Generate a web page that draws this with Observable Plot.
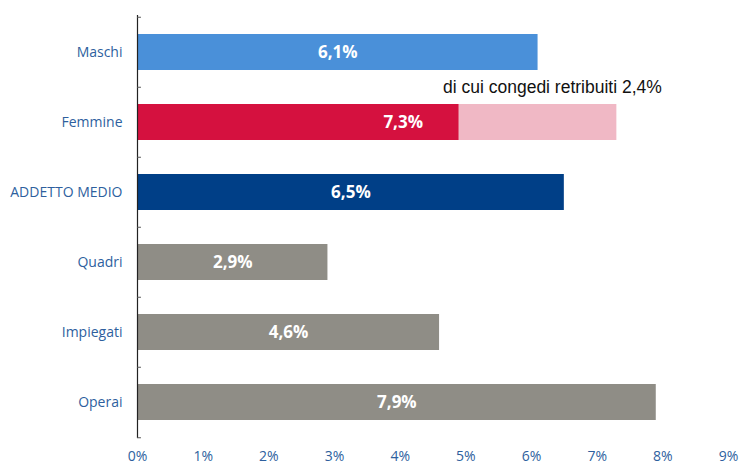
<!DOCTYPE html>
<html>
<head>
<meta charset="utf-8">
<script src="https://cdn.jsdelivr.net/npm/d3@7"></script>
<script src="https://cdn.jsdelivr.net/npm/@observablehq/plot@0.6"></script>
<style>
  body { margin: 0; background: #fff; }
  #chart svg { display: block; }
</style>
</head>
<body>
<div id="chart"></div>
<script>
const categories = ["Maschi", "Femmine", "ADDETTO MEDIO", "Quadri", "Impiegati", "Operai"];
const totals = [6.1, 7.3, 6.5, 2.9, 4.6, 7.9];
const congedi = [0, 2.4, 0, 0, 0, 0];
const labels = ["6,1%", "7,3%", "6,5%", "2,9%", "4,6%", "7,9%"];
const barColors = ["#4a90d9", "#d5113f", "#003f87", "#8f8d86", "#8f8d86", "#8f8d86"];
const congediColor = "#f0b8c5";
const note = "di cui congedi retribuiti 2,4%";
const xTicks = [0, 1, 2, 3, 4, 5, 6, 7, 8, 9];

const rows = categories.map((c, i) => ({
  cat: c, total: totals[i], cong: congedi[i], base: totals[i] - congedi[i],
  label: labels[i], color: barColors[i]
}));
const femm = rows.filter(d => d.cong > 0);
const half = (466 - 15 - 28) / categories.length / 2;

const chart = Plot.plot({
  width: 741,
  height: 466,
  marginLeft: 137,
  marginRight: 13,
  marginTop: 15,
  marginBottom: 28,
  style: { fontFamily: "'Open Sans', sans-serif", fontSize: "14px", color: "#2e5f9e" },
  x: { domain: [0, 9], ticks: xTicks, tickFormat: d => d + "%", tickSize: 0, tickPadding: 13, label: null },
  y: { domain: categories, paddingInner: 0.49, paddingOuter: 0.245, label: null, axis: null },
  marks: [
    Plot.barX(rows, { y: "cat", x1: 0, x2: "base", fill: "color" }),
    Plot.barX(femm, { y: "cat", x1: "base", x2: "total", fill: congediColor }),
    Plot.text(rows.filter(d => d.cong === 0), { y: "cat", x: d => d.total / 2, text: "label", fill: "white", fontWeight: "bold", fontSize: 17 }),
    Plot.text(femm, { y: "cat", x: d => d.total / 2, dx: 26, text: "label", fill: "white", fontWeight: "bold", fontSize: 17 }),
    Plot.text(femm, { y: "cat", x: d => d.total, dx: 45, dy: -35, text: () => note, textAnchor: "end", fill: "#111", fontFamily: "'Liberation Sans', Arial, sans-serif", fontSize: 17.5 }),
    Plot.axisY({ domain: categories, tickSize: 0, tickPadding: 15, fontSize: 14, fill: "#2e5f9e", label: null }),
    Plot.ruleX([0], { stroke: "#222", strokeWidth: 1.2 }),
    Plot.ruleY(categories, { y: d => d, x1: 0, x2: 0.06, dy: -half, stroke: "#555" }),
    Plot.ruleY(categories.slice(-1), { y: d => d, x1: 0, x2: 0.06, dy: half, stroke: "#555" })
  ]
});
document.getElementById("chart").appendChild(chart);
</script>
</body>
</html>
